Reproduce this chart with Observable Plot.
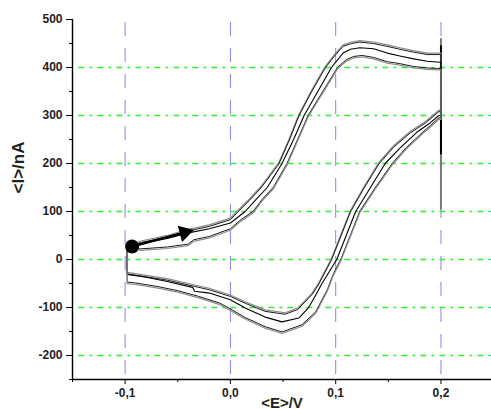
<!DOCTYPE html>
<html>
<head>
<meta charset="utf-8">
<script src="https://cdn.jsdelivr.net/npm/d3@7"></script>
<script src="https://cdn.jsdelivr.net/npm/@observablehq/plot@0.6"></script>
<style>
  html, body { margin: 0; padding: 0; background: #fff; }
</style>
</head>
<body>
<div id="chart"></div>
<script>
// ---- data (E in V, I in nA) ----
const xTicksMajor = [-0.1, 0, 0.1, 0.2];
const xTickLabels = ["-0,1", "0,0", "0,1", "0,2"];
const xTicksMinor = [-0.15, -0.05, 0.05, 0.15];
const yTicksMajor = [-200, -100, 0, 100, 200, 300, 400, 500];
const yTicksMinor = [-250, -150, -50, 50, 150, 250, 350, 450];
const yGrid = [-200, -100, 0, 100, 200, 300, 400];

const traceA = [
  [-0.094,27],[-0.086,36],[-0.06,48],[-0.041,60],[-0.02,70],[0,84],[0.007,100],[0.018,124],
  [0.029,150],[0.046,200],[0.056,250],[0.065,300],[0.077,350],[0.090,400],[0.100,428],[0.107,445],
  [0.115,451],[0.123,454],[0.136,451],[0.149,445],[0.161,439],[0.174,433],[0.187,428],[0.199,428],
  [0.2,428],[0.2,309],[0.198,309],[0.185,285],[0.171,265],[0.155,235],[0.141,200],[0.127,150],
  [0.114,100],[0.105,50],[0.096,0],[0.090,-25],[0.084,-50],[0.078,-71],[0.064,-103],[0.052,-113],
  [0.033,-107],[0.014,-90],[0,-76],[-0.02,-62],[-0.04,-52],[-0.06,-42],[-0.08,-35],[-0.098,-29],
  [-0.098,20]
];
const traceB = [
  [-0.094,27],[-0.086,33],[-0.06,44],[-0.041,55],[-0.02,64],[0,76],[0.014,100],[0.024,124],
  [0.035,150],[0.049,200],[0.060,250],[0.070,300],[0.083,350],[0.096,400],[0.107,430],[0.114,438],
  [0.123,441],[0.136,439],[0.149,430],[0.161,424],[0.174,418],[0.187,413],[0.199,411],
  [0.2,411],[0.2,300],[0.198,300],[0.19,285],[0.177,265],[0.161,232],[0.147,200],[0.133,150],
  [0.119,100],[0.110,50],[0.101,0],[0.094,-25],[0.087,-50],[0.080,-78],[0.074,-101],[0.065,-122],
  [0.049,-130],[0.033,-120],[0.014,-101],[0,-84],[-0.02,-70],[-0.034,-66],[-0.036,-58],[-0.06,-46],
  [-0.08,-37],[-0.098,-31],[-0.098,20]
];
const traceC = [
  [-0.094,27],[-0.086,21],[-0.06,25],[-0.04,31],[-0.035,40],[-0.02,47],[0,63],[0.010,82],[0.022,100],
  [0.030,124],[0.041,150],[0.054,200],[0.064,250],[0.074,300],[0.088,350],[0.102,400],[0.110,415],
  [0.117,422],[0.125,424],[0.136,420],[0.149,411],[0.161,407],[0.174,401],[0.187,398],[0.197,397],
  [0.2,397],[0.2,294],[0.198,294],[0.19,278],[0.183,265],[0.167,232],[0.154,200],[0.138,150],
  [0.123,100],[0.114,50],[0.105,0],[0.098,-30],[0.092,-64],[0.081,-110],[0.068,-137],[0.049,-152],
  [0.033,-141],[0.014,-122],[0,-104],[-0.01,-92],[-0.03,-78],[-0.05,-66],[-0.07,-57],[-0.09,-50],
  [-0.098,-48],[-0.098,20]
];
// vertical switching spikes at E = 0.2: [E, I low, I high]
const spikeGray = [[0.2, 103, 460]];
const spikeBlack = [[0.2, 218, 334], [0.2, 407, 445]];
// start marker and scan-direction arrow
const startPoint = [[-0.0934, 27]];
const arrowShaft = [[-0.0934, 27, -0.046, 55]];
const arrowHead = [[-0.0435, 56]];

const font = "'Liberation Sans', Arial, sans-serif";
const X = d => d[0], Y = d => d[1];

const chart = Plot.plot({
  width: 491,
  height: 409,
  marginLeft: 72,
  marginRight: 0,
  marginTop: 19,
  marginBottom: 30,
  style: {fontFamily: font, fontSize: "12px", fontWeight: "bold", background: "#fff"},
  x: {domain: [-0.15, 0.248], axis: null},
  y: {domain: [-250, 500], axis: null},
  marks: [
    // grid
    Plot.ruleX(xTicksMajor, {stroke: "#5a5aff", strokeWidth: 1, strokeDasharray: "14,12", strokeDashoffset: -3, strokeOpacity: 0.75}),
    Plot.ruleY(yGrid, {x1: -0.144, x2: 0.248, stroke: "#33ee33", strokeWidth: 1.3, strokeDasharray: "6,5,3,5", strokeDashoffset: 0}),
    // axes lines
    Plot.ruleX([-0.15], {stroke: "#000", strokeWidth: 1.4}),
    Plot.ruleY([-250], {stroke: "#000", strokeWidth: 1.4}),
    // axes ticks
    Plot.axisX({ticks: xTicksMajor, tickSize: 5, tickPadding: 4, tickFormat: (d, i) => xTickLabels[i], stroke: "#000", fill: "#222", fontWeight: "bold", fontSize: 12, label: null}),
    Plot.axisX({ticks: xTicksMinor, tickSize: 3, text: null, stroke: "#000", label: null}),
    Plot.axisY({ticks: yTicksMajor, tickSize: 6, tickPadding: 4, tickFormat: d => String(d), stroke: "#000", fill: "#222", fontWeight: "bold", fontSize: 12, label: null}),
    Plot.axisY({ticks: yTicksMinor, tickSize: 3, text: null, stroke: "#000", label: null}),
    // switching spikes
    Plot.ruleX(spikeGray, {x: X, y1: d => d[1], y2: d => d[2], stroke: "#7a7a7a", strokeWidth: 2}),
    Plot.ruleX(spikeBlack, {x: X, y1: d => d[1], y2: d => d[2], stroke: "#000", strokeWidth: 2}),
    // traces (gray halo + dark core, like the original plot)
    Plot.line(traceA, {x: X, y: Y, stroke: "#8a8a8a", strokeWidth: 1.2, dy: -1}),
    Plot.line(traceA, {x: X, y: Y, stroke: "#1a1a1a", strokeWidth: 1, dy: 0.5}),
    Plot.line(traceB, {x: X, y: Y, stroke: "#000", strokeWidth: 1.1}),
    Plot.line(traceC, {x: X, y: Y, stroke: "#1a1a1a", strokeWidth: 1, dy: -0.5}),
    Plot.line(traceC, {x: X, y: Y, stroke: "#8a8a8a", strokeWidth: 1.2, dy: 1}),
    // arrow and start point
    Plot.link(arrowShaft, {x1: d => d[0], y1: d => d[1], x2: d => d[2], y2: d => d[3], stroke: "#000", strokeWidth: 2.5}),
    Plot.dot(arrowHead, {x: X, y: Y, symbol: "triangle2", r: 8, fill: "#000", stroke: "none", rotate: 75}),
    Plot.dot(startPoint, {x: X, y: Y, r: 7, fill: "#000", stroke: "none"}),
    // axis titles
    Plot.text(["<E>/V"], {frameAnchor: "bottom", dy: 28, fontSize: 15, fontWeight: "bold", fill: "#222", fontFamily: font}),
    Plot.text(["<I>/nA"], {frameAnchor: "left", dx: -54, dy: -6, rotate: -90, fontSize: 17, fontWeight: "bold", fill: "#222", fontFamily: font})
  ]
});
document.getElementById("chart").appendChild(chart);
</script>
</body>
</html>
